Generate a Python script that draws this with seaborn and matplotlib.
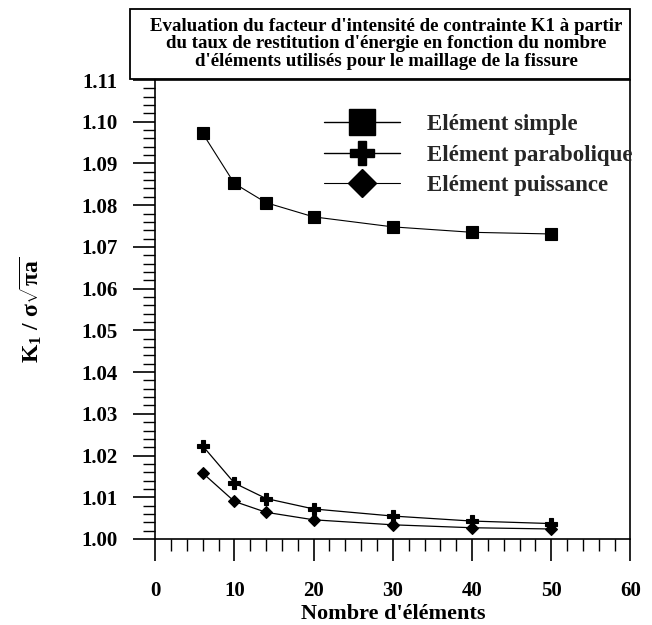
import numpy as np
import pandas as pd
import matplotlib
matplotlib.use("Agg")
import matplotlib.pyplot as plt
from matplotlib.lines import Line2D
from matplotlib.patches import Rectangle
from matplotlib.ticker import MultipleLocator, FormatStrFormatter
import seaborn as sns

# Number of elements used to mesh the crack
n_elements = [6, 10, 14, 20, 30, 40, 50]

# Normalised stress intensity factor K1 / (sigma * sqrt(pi a))
k_simple = [1.0972, 1.0852, 1.0806, 1.0772, 1.0748, 1.0735, 1.0731]
k_parabolique = [1.0223, 1.0134, 1.0097, 1.0072, 1.0055, 1.0043, 1.0037]
k_puissance = [1.0158, 1.0090, 1.0064, 1.0046, 1.0034, 1.0027, 1.0024]

series_labels = ["Elément simple", "Elément parabolique", "Elément puissance"]
title_lines = [
    "Evaluation du facteur d'intensité de contrainte K1 à partir",
    "du taux de restitution d'énergie en fonction du nombre",
    "d'éléments utilisés pour le maillage de la fissure",
]
x_ticks = [0, 10, 20, 30, 40, 50, 60]
y_ticks = [1.00, 1.01, 1.02, 1.03, 1.04, 1.05, 1.06, 1.07, 1.08, 1.09, 1.10, 1.11]

sns.set_theme(style="ticks")
plt.rcParams["font.family"] = ["Liberation Serif", "DejaVu Serif"]
plt.rcParams["font.weight"] = "bold"
plt.rcParams["mathtext.fontset"] = "custom"
plt.rcParams["mathtext.rm"] = "Liberation Serif:bold"
plt.rcParams["mathtext.it"] = "Liberation Serif:bold"
plt.rcParams["mathtext.bf"] = "Liberation Serif:bold"

df = pd.DataFrame({
    "n": n_elements * 3,
    "k": k_simple + k_parabolique + k_puissance,
    "serie": sum([[lab] * len(n_elements) for lab in series_labels], []),
})

fig = plt.figure(figsize=(6.52, 6.25), dpi=100)
ax = fig.add_axes([0.238, 0.1376, 0.729, 0.7344])

styles = {
    "Elément simple": dict(marker="s", markersize=8.5, lw=0.8),
    "Elément parabolique": dict(marker="P", markersize=8, lw=0.9),
    "Elément puissance": dict(marker="D", markersize=6.5, lw=0.9),
}
for lab in series_labels:
    sub = df[df["serie"] == lab]
    sns.lineplot(data=sub, x="n", y="k", ax=ax, color="black",
                 markeredgecolor="black", markerfacecolor="black",
                 markeredgewidth=0.8, legend=False, **styles[lab])

ax.set_xlim(0, 60)
ax.set_ylim(1.00, 1.11)
ax.set_xticks(x_ticks)
ax.set_yticks(y_ticks)
ax.xaxis.set_minor_locator(MultipleLocator(2))
ax.yaxis.set_minor_locator(MultipleLocator(0.002))
ax.yaxis.set_major_formatter(FormatStrFormatter("%.2f"))

ax.tick_params(axis="both", which="major", direction="out", length=16,
               width=1.2, color="black", labelsize=15, labelcolor="black")
ax.tick_params(axis="both", which="minor", direction="out", length=8.5,
               width=1.0, color="black")
ax.tick_params(axis="x", which="major", pad=14)
ax.tick_params(axis="y", which="major", pad=11)
for tl in ax.get_xticklabels() + ax.get_yticklabels():
    tl.set_fontweight("bold")

for sp in ax.spines.values():
    sp.set_visible(True)
    sp.set_color("black")
    sp.set_linewidth(1.2)

ax.set_xlabel("Nombre d'éléments", fontsize=16, fontweight="bold",
              color="black", labelpad=2.5)
ax.set_ylabel(r"$K_1\ /\ \sigma\sqrt{\pi a}$", fontsize=17,
              color="black", labelpad=27)

handles = [
    Line2D([], [], color="black", lw=1.0, marker="s", markersize=19),
    Line2D([], [], color="black", lw=1.0, marker="P", markersize=17),
    Line2D([], [], color="black", lw=0.8, marker="D", markersize=14),
]
ax.legend(handles, series_labels, loc="upper left",
          bbox_to_anchor=(0.355, 0.926), frameon=False,
          prop={"family": "Liberation Serif", "weight": "bold", "size": 16.5},
          handlelength=3.3, handletextpad=1.2, labelspacing=0.42,
          borderpad=0, borderaxespad=0)

# Framed title block above the plot area
fig.patches.append(Rectangle((0.199, 0.874), 0.768, 0.112,
                             transform=fig.transFigure, fill=True,
                             facecolor="white", edgecolor="black",
                             linewidth=1.3, zorder=3))
fig.text(0.592, 0.930, "\n".join(title_lines), ha="center", va="center",
         fontsize=13.6, fontweight="bold", linespacing=1.02, color="black",
         zorder=4)

fig.savefig("out.png", dpi=100, facecolor="white")
